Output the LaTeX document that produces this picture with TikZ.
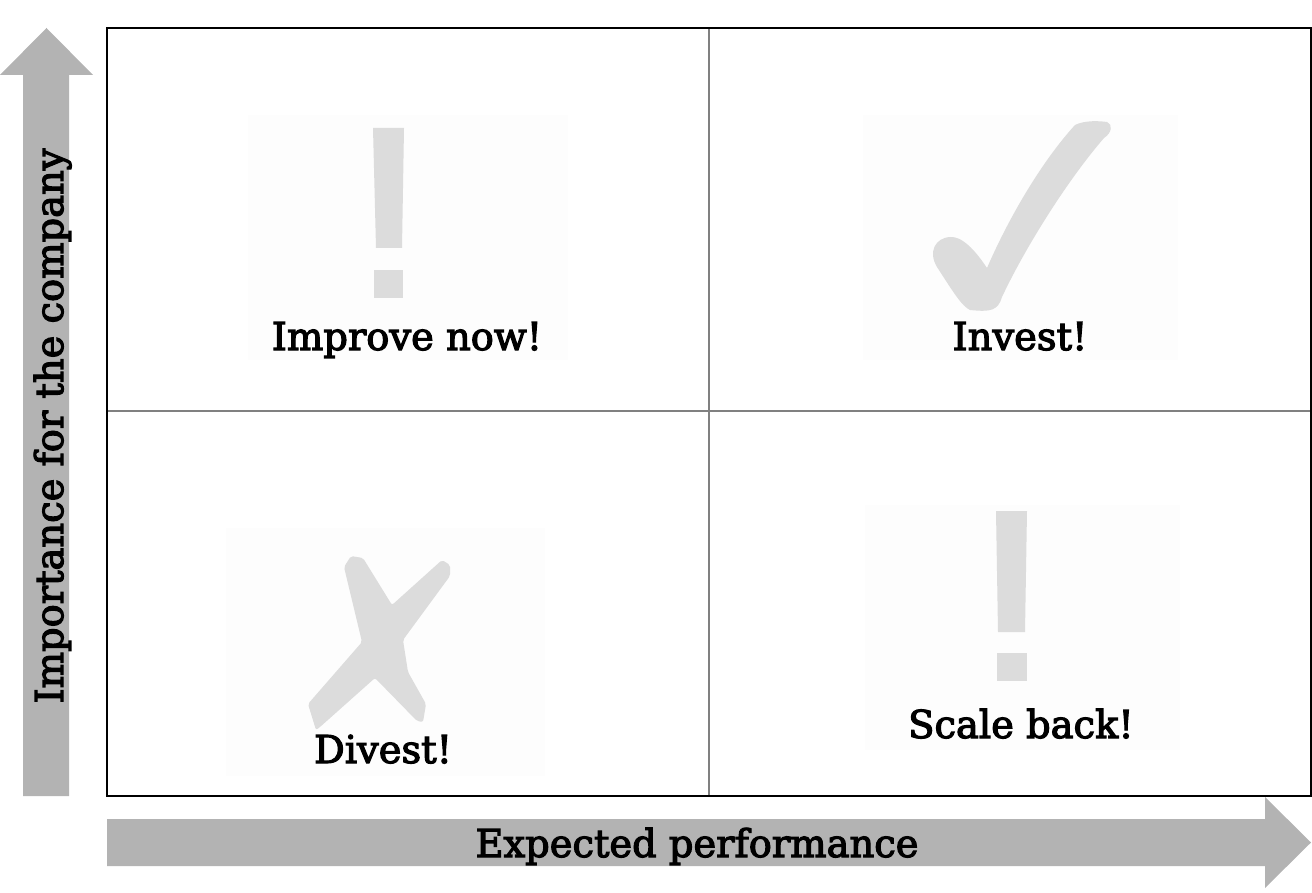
\documentclass[tikz,border=0pt]{standalone}
\usepackage{fontspec}
\setmainfont{DejaVu Serif}
\newfontfamily\lblfont[FakeBold=3]{DejaVu Serif}
\definecolor{arrowgray}{HTML}{B3B3B3}
\definecolor{icongray}{HTML}{DCDCDC}
\definecolor{faint}{HTML}{FDFDFD}
\definecolor{midgray}{HTML}{808080}
\begin{document}
\begin{tikzpicture}[x=1pt,y=-1pt,
  lbl/.style={anchor=base,inner sep=0pt,font=\lblfont\fontsize{38.4}{46}\selectfont},
  bigarrow/.style={fill=arrowgray,draw=none},
  icon/.style={fill=icongray,draw=none},
  faintbox/.style={fill=faint,draw=none}]
\useasboundingbox (0,0) rectangle (1312,893);
% faint icon backgrounds
\fill[faintbox] (248,115) rectangle (568,360);
\fill[faintbox] (863,115) rectangle (1178,360);
\fill[faintbox] (226,528) rectangle (545,776);
\fill[faintbox] (865,505) rectangle (1180,750);
% axes arrows
\path[bigarrow] (23,796) -- (23,75) -- (0,75) -- (46.5,28) -- (93,75) -- (69,75) -- (69,796) -- cycle;
\path[bigarrow] (107,819) -- (1265,819) -- (1265,797) -- (1311,842.5) -- (1265,888) -- (1265,866) -- (107,866) -- cycle;
% matrix
\draw[midgray,line width=1.2pt] (709,28) -- (709,796);
\draw[midgray,line width=1.2pt] (107,411) -- (1311,411);
\draw[black,line width=2pt] (107,28) rectangle (1311,796);
% exclamation top-left
\path[icon] (373,128) -- (404,128) -- (402,248) -- (376,248) -- cycle;
\path[icon] (374,270) rectangle (403,298);
% exclamation bottom-right
\path[icon] (996,511) -- (1027,511) -- (1025,632) -- (998,632) -- cycle;
\path[icon] (997,653) rectangle (1027,681);
% check mark
\path[icon] (1107,122) .. controls (1113,124) and (1112,133) .. (1104,138)
  .. controls (1066,182) and (1024,250) .. (1002,297)
  .. controls (998,311) and (990,312) .. (970,310)
  .. controls (962,306) and (955,295) .. (937,267)
  .. controls (928,252) and (935,238) .. (950,237)
  .. controls (962,236) and (975,250) .. (987,268)
  .. controls (1010,215) and (1043,160) .. (1075,125)
  .. controls (1085,120) and (1100,121) .. (1107,122) -- cycle;
% cross
\path[icon,rounded corners=2pt] (344,567) -- (351,556) -- (363,558) -- (392,605) -- (442,560) -- (450,565) -- (450,576) -- (403,640) -- (408,672) -- (426,704) -- (423,722) -- (417,721) -- (375,678) -- (320,727) -- (316,730) -- (308,704) -- (362,642) -- cycle;
% labels
\node[lbl] (improve) at (407,350) {Improve now!};
\node[lbl] (invest) at (1020,350) {Invest!};
\node[lbl] (divest) at (383,763) {Divest!};
\node[lbl] (scale) at (1021,738) {Scale back!};
\node[lbl] (xlabel) at (697,857) {Expected performance};
\node[lbl,rotate=90] (ylabel) at (63,426) {Importance for the company};
\end{tikzpicture}
\end{document}
